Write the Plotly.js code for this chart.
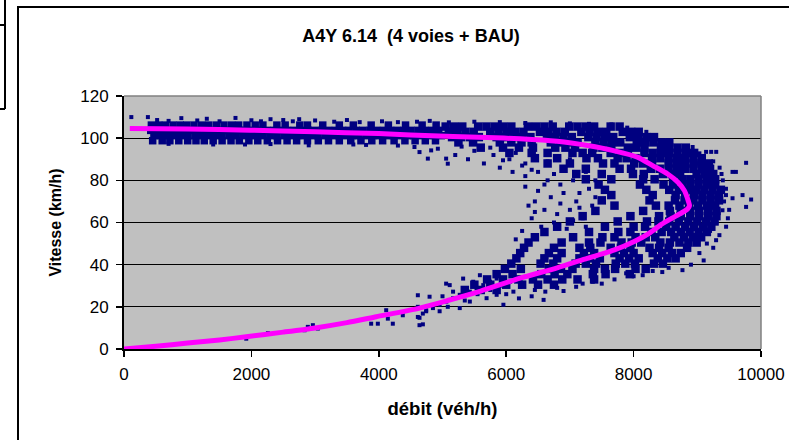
<!DOCTYPE html>
<html>
<head>
<meta charset="utf-8">
<script src="https://cdn.plot.ly/plotly-3.0.1.min.js"></script>
<style>html,body{margin:0;padding:0;background:#fff;}#chart{width:789px;height:440px;}</style>
</head>
<body>
<div id="chart"></div>
<script>
// ---- Data ----
const chartTitle = 'A4Y 6.14  (4 voies + BAU)';
const xTitle = 'débit (véh/h)';
const yTitle = 'Vitesse (km/h)';
const xTicks = [0, 2000, 4000, 6000, 8000, 10000];
const yTicks = [0, 20, 40, 60, 80, 100, 120];

// free-flow measurements (speed level -> flows observed)
const freeRowV = [106.2, 103.7, 101.2, 98.8];
const freeRowX = [
  [430,545,650,770,880,985,1100,1220,1330,1450,1570,1690,1800,1930,2060,2180,2400,2530,2760,2880,3120,3380,3600,3880,4150,4420,4680,4900],
  [420,525,630,735,840,945,1055,1160,1270,1380,1485,1595,1700,1810,1915,2025,2135,2240,2350,2455,2565,2675,2780,2890,2995,3105,3210,3320,3430,3535,3645,3750,3860,3965,4075,4185,4290,4400,4505,4615,4720,4830,4940],
  [470,575,685,790,900,1005,1115,1220,1325,1435,1540,1650,1755,1865,1970,2080,2185,2295,2400,2510,2615,2725,2830,2940,3045,3155,3260,3370,3475,3585,3690,3800,3905,4015,4120,4230,4335,4445,4550,4660,4765,4875,4980],
  [450,600,720,860,1000,1130,1260,1400,1540,1680,1810,1960,2100,2250,2410,2560,2710,2880,3050,3210,3380,3560,3720,3890,4060,4240,4410,4570,4730,4890]
];

// congested / near-capacity measurements (speed level -> flows observed)
const congRowV = [105.5, 103, 100.5, 98, 95.5, 93, 90.5, 88, 85.5, 83, 80.5, 78, 75.5, 73, 70.5, 68, 65.5, 63, 60.5, 58, 55.5, 53, 50.5, 48, 45.5, 43, 40.5, 38, 35.5, 33, 30.5, 28];
const congRowX = [
  [5050,5180,5310,5560,5690,5820,5950,6080,6340,6470,6600,6730,6990,7120,7250,7380,7640,7780],
  [5100,5230,5360,5490,5750,5880,6010,6140,6270,6530,6660,6790,6920,7180,7310,7440,7570,7830,7960,8080],
  [5150,5290,5430,5570,5850,5990,6120,6250,6380,6640,6770,6900,7030,7290,7420,7550,7680,7940,8070,8200,8320],
  [5250,5480,5900,6080,6240,6400,6700,6840,6980,7120,7400,7530,7660,7790,8050,8180,8310,8440,8560],
  [5600,5950,6200,6420,6770,6930,7080,7370,7510,7650,7910,8040,8170,8430,8560,8690,8820],
  [6050,6400,6650,7040,7200,7350,7640,7780,7910,8170,8300,8430,8560,8690,8820,8950],
  [6450,6800,7260,7440,7750,7890,8030,8290,8420,8550,8680,8810,8940,9070],
  [6650,7000,7520,7700,8010,8150,8290,8550,8680,8810,8940,9070,9180],
  [6900,7250,7780,7960,8270,8410,8550,8680,8810,8940,9070,9200],
  [7100,7500,7990,8160,8460,8600,8730,8990,9120,9250],
  [7250,7650,8150,8330,8620,8760,8890,9020,9150,9280],
  [7450,8100,8470,8620,8760,8890,9020,9150,9280],
  [7550,8200,8560,8710,8850,8980,9110,9240,9370],
  [7650,8300,8660,8810,8950,9080,9210,9340],
  [7500,8250,8650,8800,8940,9080,9210,9340],
  [7700,8350,8550,8720,8870,9010,9150,9280],
  [7400,8150,8570,8740,8890,9030,9170,9300],
  [7200,7950,8400,8580,8740,8890,9030,9170,9300],
  [7000,7750,8210,8390,8560,8710,8860,9000,9140,9270],
  [6800,7550,8000,8180,8510,8660,8810,8950,9090,9220],
  [6600,7300,7760,7950,8280,8440,8590,8740,8880,9020,9150],
  [6450,7050,7510,7700,8030,8190,8340,8640,8790,8930,9060],
  [6350,6870,7300,7480,7810,7970,8120,8420,8570,8720,8860,8990],
  [6280,6750,7150,7320,7640,7800,7950,8250,8400,8550,8840],
  [6220,6670,6870,7220,7380,7700,7850,8000,8300,8450,8600,8740],
  [6160,6600,6800,7150,7310,7470,7780,7930,8080,8380,8530,8660],
  [6080,6540,6740,7090,7250,7410,7720,7870,8020,8320,8460],
  [5980,6230,6670,6860,7040,7380,7550,7710,8030,8190],
  [5850,6100,6550,6760,6960,7360,7560,7940],
  [5700,5950,6190,6420,6650,6880,7120,7380],
  [5500,5750,6000,6250,6500,6750],
  [5350,5600,5850]
];

// isolated / sparse measurements
const sparseX = [115,375,520,700,900,1150,1300,1500,1750,2000,2150,2300,2500,2650,2750,3000,3300,3500,3700,4050,4300,4600,4800,5100,5500,5900,6300,6700,7000,7300,7650,7900,8200,8040,
  1400,2300,2900,3600,3800,4300,1900,700,
  4560,4639,4770,4822,4927,5057,5083,
  5200,5400,5650,5900,6100,6300,5500,5800,6050,5300,6150,5950,6250,6400,5750,
  6300,6500,6450,6700,6900,7100,7300,6600,6800,7000,7200,6400,6550,6750,6950,7150,7400,6350,6250,6150,6650,6850,7050,7250,6500,6900,6300,6650,7000,7150,7350,6850,7050,6600,7250,7400,6450,6750,
  9138,9218,9297,9766,9553,9606,9710,9845,9766,9553,9395,9452,9347,9295,9033,8767,8143,9400,9450,9350,9480,9420,9300,9250,9100,8900,9000,9100,8950,8405,8562,8927,9033,9250,9380,9450,9500,9200,9150,
  7359,7883,7098,6587,6614,6800,7500,7700,8000,8300,8550,6400,6200,6000,6900,7200,6450,8450,
  4744,4850,4955,5060,5166,5271,5429,5534,5640,5745,5850,5113,5324,5587,5429,5692,5850,5271,5956,6113,6219,4639,4692,4955,5166,4797,5482,6061,5000,5350,5550,5750,5900,
  1919,2260,2834,2886,2965,3043,3880,3985,4116,4142,4220,4377,4613,4613,4613,4639,4691,4743,5057,5083];
const sparseV = [110,110,108.6,108.2,109.5,108.4,109.2,108,109.6,108.5,108,109,108.6,108,109,108.4,107.8,108.6,107.6,108,107.6,107.8,108.2,107.5,107.8,107.6,107.2,107.5,107,106.8,106.5,105,103,101.4,
  97,97.2,96.6,97,96.8,96.5,97,97.3,
  95.8,93.4,90.3,94.2,95,90.3,87.9,
  92,90,88,86,84,82,94,92,90,96,93,89.5,87,85,95.5,
  77,75,70,72,74,70,76,66,64,66,62,62,58,60,57,67,72,68,56,52,80,78,80,84,84,86,88,89,90,74,68,69,61,78,58,80,65,83,
  93.5,93.5,93.5,88.3,84,84,73,70.9,67.4,71.5,65.8,58,54,51.6,45.5,37.4,35,80,76,86,62,70,60,48,42,40,88,90,93,98.2,97.6,95.8,92.8,89,83,73,66,56,50,
  31.9,35.9,29.5,23.3,27.2,29,31,33,34.5,37,38.5,25,24,26,27.5,31,28,36.5,
  17.9,19.4,21,22.5,24.1,25.7,27.2,28.8,30.3,31.9,33.4,30.3,33.4,35,22.5,24.1,25.7,19.4,21,27.2,29.6,14.8,11.7,17.9,27.2,24.8,31.9,31.9,25,23,26,28,30,
  4.9,7.5,8.9,10.5,11.3,9.7,12,12,18.4,14.4,12,16,25.5,20,15.2,11.3,16.8,18.4,31,20];

// fitted speed-flow curve (magenta)
const curveX = [0,500,1000,1500,1919,2500,3000,3500,3960,4639,5080,5600,6220,6800,7272,7700,8010,8250,8430,8600,8750,8850,8877,8850,8800,8700,8535,8300,8060,7700,7277,6800,6220,5700,5166,4500,4000,3000,1976,1000,91];
const curveV = [0,1.3,2.8,4.3,5.8,8,10,12.5,15.3,19.4,23,27.5,33.6,38.5,43,47,51,55,59,62,64.5,66.5,68,71,75,79,83,87,91,94,96.5,98.5,99.7,100.3,100.8,101.5,102.2,103,103.8,104.3,104.6];

// ---- flatten row tables ----
function flatten(rowV, rowX) {
  const xs = [], vs = [];
  rowX.forEach((row, i) => row.forEach(x => { xs.push(x); vs.push(rowV[i]); }));
  return {xs, vs};
}
const free = flatten(freeRowV, freeRowX);
const cong = flatten(congRowV, congRowX);

const FONT = 'Arial, "Liberation Sans", sans-serif';
const navy = '#000080';

const traces = [
  {type:'scatter', mode:'markers', x:free.xs, y:free.vs, hoverinfo:'skip',
   marker:{symbol:'square', size:7.5, color:navy, line:{width:0}}},
  {type:'scatter', mode:'markers', x:cong.xs, y:cong.vs, hoverinfo:'skip',
   marker:{symbol:'square', size:8.5, color:navy, line:{width:0}}},
  {type:'scatter', mode:'markers', x:sparseX, y:sparseV, hoverinfo:'skip',
   marker:{symbol:'square', size:4, color:navy, line:{width:0}}},
  {type:'scatter', mode:'lines', x:curveX, y:curveV, hoverinfo:'skip',
   line:{color:'#ff00ff', width:5, shape:'spline', smoothing:0.6}}
];

// plot area in pixels: x 124..761, y 96..349
const L = 124, R = 761, T = 96, B = 349;
const px = p => (p - L) / (R - L);
const py = p => (B - p) / (B - T);

const layout = {
  width:789, height:440,
  margin:{l:L, r:789-R, t:T, b:440-B, pad:0},
  paper_bgcolor:'#ffffff', plot_bgcolor:'#c0c0c0',
  showlegend:false,
  font:{family:FONT, color:'#000'},
  title:{text:'<b>' + chartTitle + '</b>', font:{family:FONT, size:18, color:'#000'},
         x:411/789, xref:'container', xanchor:'center', y:1-36/440, yref:'container', yanchor:'middle'},
  xaxis:{range:[0,10000], tickvals:xTicks, ticktext:xTicks.map(String), showgrid:false, zeroline:false,
         showline:true, linecolor:'#000', linewidth:2, ticks:'outside', ticklen:6, tickwidth:1.5, tickcolor:'#000',
         tickfont:{family:FONT, size:17, color:'#000'}, ticklabelstandoff:3,
         title:{text:'<b>' + xTitle + '</b>', font:{family:FONT, size:18.5, color:'#000'}, standoff:19}},
  yaxis:{range:[0,120], tickvals:yTicks, ticktext:yTicks.map(String), showgrid:true, gridcolor:'#000', gridwidth:1, zeroline:false,
         showline:true, linecolor:'#000', linewidth:2, ticks:'outside', ticklen:6, tickwidth:1.5, tickcolor:'#000',
         tickfont:{family:FONT, size:17, color:'#000'}, ticklabelstandoff:4,
         title:{text:'<b>' + yTitle + '</b>', font:{family:FONT, size:16, color:'#000'}, standoff:15}},
  shapes:[
    {type:'line', xref:'paper', yref:'paper', x0:0, x1:1, y0:1, y1:1, line:{color:'#808080', width:1.5}},
    {type:'line', xref:'paper', yref:'paper', x0:1, x1:1, y0:0, y1:1, line:{color:'#808080', width:1.5}},
    {type:'rect', xref:'paper', yref:'paper', x0:px(18), x1:px(800), y0:py(460), y1:py(7), line:{color:'#000', width:2}},
    {type:'line', xref:'paper', yref:'paper', x0:px(5), x1:px(5), y0:py(-5), y1:py(109), line:{color:'#000', width:2}},
    {type:'line', xref:'paper', yref:'paper', x0:px(-5), x1:px(5), y0:py(25), y1:py(25), line:{color:'#000', width:2}},
    {type:'line', xref:'paper', yref:'paper', x0:px(-5), x1:px(5), y0:py(109), y1:py(109), line:{color:'#000', width:2}}
  ]
};

Plotly.newPlot('chart', traces, layout, {staticPlot:true, displayModeBar:false});
</script>
</body>
</html>
